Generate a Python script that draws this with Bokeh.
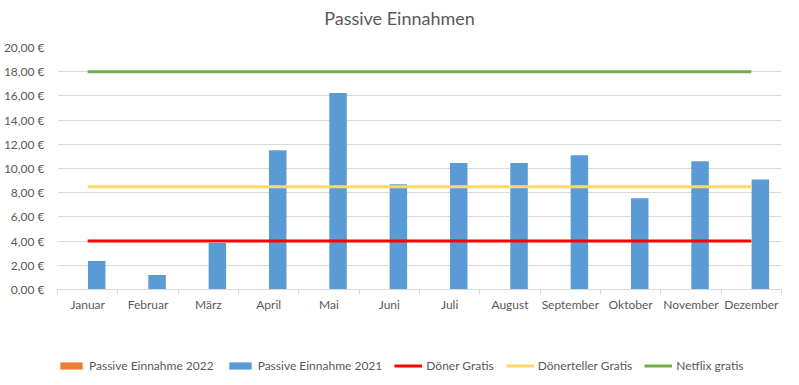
import numpy as np
from bokeh.plotting import figure
from bokeh.layouts import column
from bokeh.models import Range1d, FixedTicker, Legend, LegendItem, ColumnDataSource, Label
from bokeh.embed import file_html
from bokeh.resources import INLINE

months = ["Januar", "Februar", "März", "April", "Mai", "Juni", "Juli",
          "August", "September", "Oktober", "November", "Dezember"]
einnahme_2021 = [2.35, 1.2, 3.85, 11.5, 16.25, 8.7, 10.45, 10.45, 11.1, 7.55, 10.6, 9.1]
einnahme_2022 = [float("nan")] * 12
doener_gratis = 4.0
doenerteller_gratis = 8.5
netflix_gratis = 18.0
y_ticks = list(range(0, 22, 2))
series_names = ["Passive Einnahme 2022", "Passive Einnahme 2021", "Döner Gratis",
                "Dönerteller Gratis", "Netflix gratis"]
title_text = "Passive Einnahmen"

FONT = "Lato"
TXT = "#595959"
C22, C21, CRED, CYEL, CGRN = "#ED7D31", "#5B9BD5", "#FF0000", "#FFD966", "#70AD47"

centers = np.arange(len(months)) + 0.5

# ---- title strip ----
tt = figure(width=799, height=39, output_backend="svg", toolbar_location=None,
            x_range=Range1d(0, 724), y_range=Range1d(0, 39), x_axis_type=None, y_axis_type=None,
            min_border_left=57, min_border_right=18, min_border_top=0, min_border_bottom=0)
tt.outline_line_color = None
tt.xgrid.visible = False
tt.ygrid.visible = False
tt.add_layout(Label(x=342, y=22, text=title_text, text_align="center", text_baseline="middle",
                    text_font=FONT, text_font_size="18px", text_color=TXT))

# ---- main chart ----
p = figure(width=799, height=296, output_backend="svg", toolbar_location=None,
           x_range=Range1d(0, len(months)), y_range=Range1d(0, 20),
           min_border_left=57, min_border_right=18, min_border_top=8, min_border_bottom=46)
p.outline_line_color = None
p.background_fill_color = "white"

src = ColumnDataSource(dict(x21=centers + 0.15, x22=centers - 0.15, v21=einnahme_2021, v22=einnahme_2022))
p.vbar(x="x22", top="v22", width=0.29, source=src, fill_color=C22, line_color=None)
p.vbar(x="x21", top="v21", width=0.29, source=src, fill_color=C21, line_color=None)

p.line(centers, [doener_gratis] * len(months), line_color=CRED, line_width=3)
p.line(centers, [doenerteller_gratis] * len(months), line_color=CYEL, line_width=3)
p.line(centers, [netflix_gratis] * len(months), line_color=CGRN, line_width=3)

xa = p.xaxis[0]
xa.ticker = FixedTicker(ticks=list(centers), minor_ticks=list(range(0, len(months) + 1)))
xa.major_label_overrides = {float(c): m for c, m in zip(centers, months)}
xa.major_tick_line_color = None
xa.major_tick_out = 0
xa.major_tick_in = 0
xa.minor_tick_line_color = "#d9d9d9"
xa.minor_tick_out = 5
xa.minor_tick_in = 0
xa.axis_line_color = "#d9d9d9"
xa.major_label_text_font = FONT
xa.major_label_text_font_size = "12px"
xa.major_label_text_color = TXT
xa.major_label_standoff = 2

ya = p.yaxis[0]
ya.ticker = FixedTicker(ticks=y_ticks)
ya.major_label_overrides = {t: f"{t:.2f} €".replace(".", ",") for t in y_ticks}
ya.axis_line_color = None
ya.major_tick_line_color = None
ya.minor_tick_line_color = None
ya.major_tick_out = 0
ya.major_tick_in = 0
ya.major_label_text_font = FONT
ya.major_label_text_font_size = "12px"
ya.major_label_text_color = TXT
ya.major_label_standoff = 13

p.xgrid.grid_line_color = None
p.ygrid.grid_line_color = "#d9d9d9"
p.ygrid.ticker = FixedTicker(ticks=y_ticks)

# ---- legend strip ----
lg = figure(width=799, height=50, output_backend="svg", toolbar_location=None,
            x_range=Range1d(0, 1), y_range=Range1d(0, 1), x_axis_type=None, y_axis_type=None,
            min_border_left=57, min_border_right=18, min_border_top=0, min_border_bottom=0)
lg.outline_line_color = None
lg.xgrid.visible = False
lg.ygrid.visible = False
nan1 = [float("nan")]
l22 = lg.vbar(x=nan1, top=nan1, width=0.1, fill_color=C22, line_color=None)
l21 = lg.vbar(x=nan1, top=nan1, width=0.1, fill_color=C21, line_color=None)
lr = lg.line(nan1, nan1, line_color=CRED, line_width=3)
ly = lg.line(nan1, nan1, line_color=CYEL, line_width=3)
lgr = lg.line(nan1, nan1, line_color=CGRN, line_width=3)

legend = Legend(items=[LegendItem(label=n, renderers=[r]) for n, r in
                       zip(series_names, [l22, l21, lr, ly, lgr])],
                orientation="horizontal", location=(0, 12))
legend.padding = 0
legend.margin = 0
legend.spacing = 12
legend.label_standoff = 4
legend.glyph_width = 28
legend.glyph_height = 9
legend.border_line_color = None
legend.background_fill_alpha = 0
legend.label_text_font = FONT
legend.label_text_font_size = "12px"
legend.label_text_color = TXT
lg.add_layout(legend, "center")

layout = column(tt, p, lg, spacing=0)
open("out.html", "w").write(file_html(layout, INLINE))
